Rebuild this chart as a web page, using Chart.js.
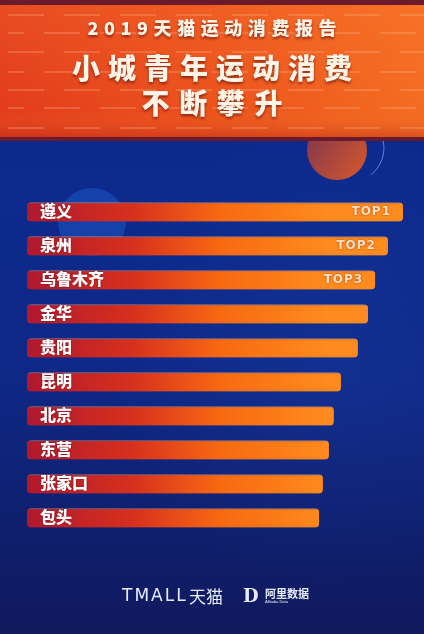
<!DOCTYPE html>
<html>
<head>
<meta charset="utf-8">
<script src="https://cdn.jsdelivr.net/npm/chart.js@4.4.0/dist/chart.umd.min.js"></script>
<style>
  html, body { margin: 0; padding: 0; background: #0f2a86; }
  #wrap { width: 424px; height: 634px; }
</style>
</head>
<body>
<div id="wrap"><canvas id="grafico" width="424" height="634"></canvas></div>
<script>
// dados do ranking (índice relativo, TOP1 = 100)
const cidades = ['遵义', '泉州', '乌鲁木齐', '金华', '贵阳', '昆明', '北京', '东营', '张家口', '包头'];
const indice = [100, 96.0, 92.6, 90.7, 88.0, 83.5, 81.6, 80.3, 78.7, 77.7];
const destaques = ['TOP1', 'TOP2', 'TOP3'];

const tituloTopo = '2019天猫运动消费报告';
const tituloLinha1 = '小城青年运动消费';
const tituloLinha2 = '不断攀升';

const FONTE = '"Noto Sans CJK SC", "Noto Sans", sans-serif';

// texto com espaçamento ajustado a uma largura
function textoEspacado(ctx, texto, cx, cy, largura) {
  const chars = Array.from(texto);
  let soma = 0;
  chars.forEach(c => soma += ctx.measureText(c).width);
  const gap = chars.length > 1 ? (largura - soma) / (chars.length - 1) : 0;
  let x = cx - largura / 2;
  ctx.textAlign = 'left';
  chars.forEach(c => {
    ctx.fillText(c, x, cy);
    x += ctx.measureText(c).width + gap;
  });
}

const fundo = {
  id: 'fundo',
  beforeDraw(chart) {
    const ctx = chart.ctx;
    const W = chart.width, H = chart.height;
    ctx.save();

    // fundo azul
    let g = ctx.createLinearGradient(0, 130, 0, H);
    g.addColorStop(0, '#0c2a8e');
    g.addColorStop(0.5, '#0e2886');
    g.addColorStop(1, '#10195c');
    ctx.fillStyle = g;
    ctx.fillRect(0, 0, W, H);

    let r = ctx.createRadialGradient(330, 360, 10, 330, 360, 230);
    r.addColorStop(0, 'rgba(40,80,190,0.18)');
    r.addColorStop(1, 'rgba(40,80,190,0)');
    ctx.fillStyle = r;
    ctx.fillRect(0, 0, W, H);

    // esferas decorativas
    ctx.beginPath();
    ctx.arc(92, 222, 34, 0, Math.PI * 2);
    ctx.fillStyle = 'rgba(30,90,200,0.5)';
    ctx.fill();

    g = ctx.createLinearGradient(310, 140, 366, 180);
    g.addColorStop(0, '#8a3a4a');
    g.addColorStop(1, '#d8582c');
    ctx.beginPath();
    ctx.arc(337, 150, 30, 0, Math.PI * 2);
    ctx.fillStyle = g;
    ctx.fill();
    ctx.beginPath();
    ctx.arc(350, 148, 34, -0.6, 0.9);
    ctx.strokeStyle = 'rgba(120,170,255,0.7)';
    ctx.lineWidth = 1;
    ctx.stroke();

    // faixa laranja do cabeçalho
    ctx.fillStyle = '#6a1a2a';
    ctx.fillRect(0, 0, W, 141);
    g = ctx.createLinearGradient(0, 0, W, 0);
    g.addColorStop(0, '#e23c1c');
    g.addColorStop(0.5, '#ec521c');
    g.addColorStop(1, '#f46c22');
    ctx.fillStyle = g;
    ctx.fillRect(0, 5, W, 132);
    g = ctx.createLinearGradient(0, 5, 0, 137);
    g.addColorStop(0, 'rgba(255,140,60,0.2)');
    g.addColorStop(0.8, 'rgba(255,140,60,0)');
    g.addColorStop(1, 'rgba(170,30,20,0.35)');
    ctx.fillStyle = g;
    ctx.fillRect(0, 5, W, 132);

    // linhas tracejadas
    ctx.strokeStyle = 'rgba(255,190,150,0.25)';
    ctx.lineWidth = 2;
    ctx.setLineDash([36, 20]);
    [15, 33, 52, 72, 90, 108, 128].forEach((y, i) => {
      ctx.lineDashOffset = i % 2 ? 20 : 0;
      ctx.beginPath();
      ctx.moveTo(8, y);
      ctx.lineTo(W, y);
      ctx.stroke();
    });
    ctx.setLineDash([]);

    // títulos
    ctx.fillStyle = '#fff4e6';
    ctx.textBaseline = 'middle';
    ctx.shadowColor = 'rgba(110,20,10,0.75)';
    ctx.shadowBlur = 3;
    ctx.shadowOffsetY = 2;
    ctx.font = '900 18px ' + FONTE;
    textoEspacado(ctx, tituloTopo, 212, 28, 249);
    ctx.font = '900 28px ' + FONTE;
    textoEspacado(ctx, tituloLinha1, 212, 68, 280);
    textoEspacado(ctx, tituloLinha2, 212, 103, 141);

    // rodapé
    ctx.shadowColor = 'transparent';
    ctx.fillStyle = '#e8ecff';
    ctx.textAlign = 'left';
    ctx.font = '17px "DejaVu Sans", sans-serif';
    ctx.letterSpacing = '2px';
    ctx.fillText('TMALL', 122, 597);
    ctx.letterSpacing = '0px';
    ctx.font = '17px ' + FONTE;
    ctx.fillText('天猫', 189, 597);
    ctx.font = 'bold 18px "DejaVu Serif", serif';
    ctx.fillText('D', 243, 597);
    ctx.font = 'bold 11px ' + FONTE;
    ctx.fillText('阿里数据', 265, 594);
    ctx.font = '4px sans-serif';
    ctx.fillText('Alibaba Data', 265, 602);
    ctx.restore();
  }
};

const rotulos = {
  id: 'rotulos',
  afterDatasetsDraw(chart) {
    const ctx = chart.ctx;
    const barras = chart.getDatasetMeta(0).data;
    ctx.save();
    ctx.textBaseline = 'middle';
    barras.forEach((b, i) => {
      ctx.fillStyle = '#ffffff';
      ctx.shadowColor = 'rgba(90,0,0,0.6)';
      ctx.shadowBlur = 2;
      ctx.font = '900 16px ' + FONTE;
      ctx.textAlign = 'left';
      ctx.fillText(cidades[i], 40, b.y - 1);
      if (destaques[i]) {
        ctx.fillStyle = '#ffe2c4';
        ctx.font = 'bold 12px "DejaVu Sans", sans-serif';
        ctx.textAlign = 'right';
        ctx.letterSpacing = '1px';
        ctx.fillText(destaques[i], b.x - 12, b.y);
        ctx.letterSpacing = '0px';
      }
    });
    ctx.restore();
  }
};

const ctx = document.getElementById('grafico').getContext('2d');

const grafico = new Chart(ctx, {
  type: 'bar',
  data: {
    labels: cidades,
    datasets: [{
      data: indice,
      backgroundColor(c) {
        const area = c.chart.chartArea;
        if (!area) return '#e85a1a';
        const g = c.chart.ctx.createLinearGradient(area.left, 0, area.left + 300, 0);
        g.addColorStop(0, '#b0182e');
        g.addColorStop(0.35, '#d6301e');
        g.addColorStop(0.65, '#f86a12');
        g.addColorStop(1, '#ff8a1e');
        return g;
      },
      borderColor: 'rgba(255,170,120,0.6)',
      borderWidth: { top: 1, right: 0, bottom: 0, left: 0 },
      borderSkipped: false,
      borderRadius: 4,
      barThickness: 19
    }]
  },
  options: {
    indexAxis: 'y',
    responsive: false,
    animation: false,
    layout: { padding: { top: 195, bottom: 99, left: 27, right: 21 } },
    plugins: {
      legend: { display: false },
      tooltip: { enabled: false },
      title: { display: false }
    },
    scales: {
      x: { min: 0, max: 100, display: false },
      y: { display: false }
    }
  },
  plugins: [fundo, rotulos]
});
</script>
</body>
</html>
